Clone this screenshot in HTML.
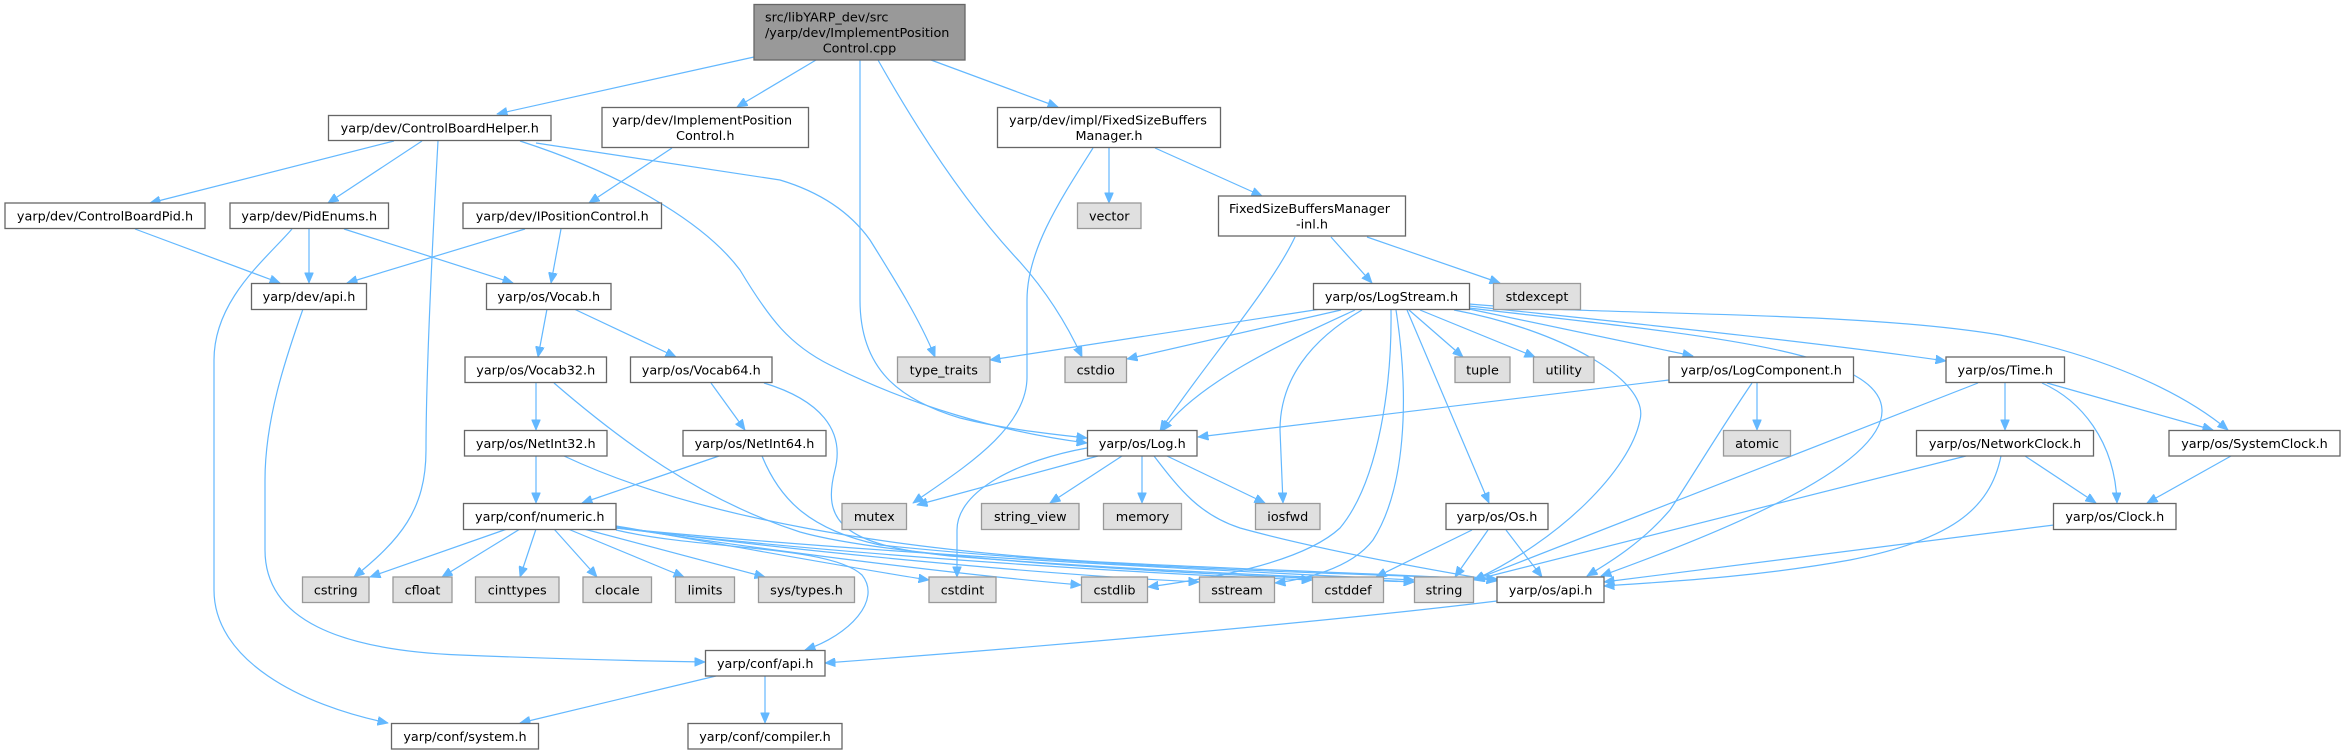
<!DOCTYPE html>
<html>
<head>
<meta charset="utf-8">
<style>
html,body{margin:0;padding:0;background:#fff;}
svg{display:block;}
text{font-family:"DejaVu Sans","Liberation Sans",sans-serif;font-size:12.8px;fill:#000;}
.w{fill:#fff;stroke:#666;stroke-width:1.3;}
.g{fill:#e0e0e0;stroke:#999;stroke-width:1.3;}
.m{fill:#999;stroke:#666;stroke-width:1.3;}
.e{fill:none;stroke:#63b8ff;stroke-width:1.2;marker-end:url(#ah);}
</style>
</head>
<body>
<svg width="2345" height="755" viewBox="0 0 2345 755" xmlns="http://www.w3.org/2000/svg">
<defs>
<marker id="ah" markerUnits="userSpaceOnUse" markerWidth="11" markerHeight="9" refX="10.5" refY="4.5" orient="auto">
<path d="M0,0 L10.5,4.5 L0,9 z" fill="#63b8ff" stroke="#63b8ff" stroke-width="0.8"/>
</marker>
</defs>

<!-- EDGES -->
<g>
<path class="e" d="M754,57 L497,114"/>
<path class="e" d="M816,60 L737,107"/>
<path class="e" d="M860,60 L860,300 C860,370 900,400 960,418 C1000,428 1040,433 1087,438"/>
<path class="e" d="M878,60 C940,170 990,230 1020,262 C1045,290 1065,320 1082,357"/>
<path class="e" d="M931,60 L1058,107"/>
<path class="e" d="M394,141 L150,203"/>
<path class="e" d="M422,141 L328,203"/>
<path class="e" d="M438,141 C432,250 426,380 426,450 C426,510 400,540 354,577"/>
<path class="e" d="M520,141 C640,180 710,230 740,270 C770,320 790,345 830,365 C910,405 1000,432 1087,443"/>
<path class="e" d="M536,143 L780,180 C820,192 850,212 870,240 C895,280 920,320 935,357"/>
<path class="e" d="M672,148 L589,203"/>
<path class="e" d="M1109,148 L1109,203"/>
<path class="e" d="M1155,148 L1262,196"/>
<path class="e" d="M1093,148 C1060,200 1027,250 1027,300 L1027,377 C1027,430 960,470 913,503"/>
<path class="e" d="M135,229 L280,283"/>
<path class="e" d="M309,229 L309,283"/>
<path class="e" d="M344,229 L513,283"/>
<path class="e" d="M292,229 C265,260 214,300 214,360 L214,590 C214,660 300,705 388,723"/>
<path class="e" d="M525,229 L347,283"/>
<path class="e" d="M561,229 L551,283"/>
<path class="e" d="M303,309 C285,360 265,420 265,480 L265,550 C265,620 340,650 460,655 C560,659 640,661 705,662"/>
<path class="e" d="M547,309 L538,357"/>
<path class="e" d="M574,309 L676,357"/>
<path class="e" d="M536,383 L536,430"/>
<path class="e" d="M554,383 C620,440 700,500 800,532 C900,560 1200,575 1414,582"/>
<path class="e" d="M711,383 L745,430"/>
<path class="e" d="M764,383 C820,400 845,430 835,470 C822,520 840,545 950,556 C1150,572 1350,578 1414,582"/>
<path class="e" d="M536,456 L536,503"/>
<path class="e" d="M564,456 C700,520 900,550 1100,562 C1300,572 1420,575 1497,580"/>
<path class="e" d="M719,456 L582,503"/>
<path class="e" d="M762,456 C780,500 810,530 880,545 C1100,568 1350,574 1497,579"/>
<!-- numeric -->
<path class="e" d="M507,529 L370,577"/>
<path class="e" d="M520,529 L442,577"/>
<path class="e" d="M536,529 L520,577"/>
<path class="e" d="M554,529 L597,577"/>
<path class="e" d="M568,529 L684,577"/>
<path class="e" d="M584,529 L765,577"/>
<path class="e" d="M616,526 C700,540 850,568 929,580"/>
<path class="e" d="M616,527 C750,548 950,574 1081,585"/>
<path class="e" d="M616,527 C800,552 1050,575 1199,582"/>
<path class="e" d="M616,528 C850,556 1150,574 1312,580"/>
<path class="e" d="M616,528 C900,556 1250,572 1414,580"/>
<path class="e" d="M616,530 C700,550 830,545 862,575 C882,600 850,635 805,650"/>
<!-- Log.h -->
<path class="e" d="M1098,456 L917,505"/>
<path class="e" d="M1087,448 C1020,460 957,490 957,530 L957,577"/>
<path class="e" d="M1122,456 L1050,503"/>
<path class="e" d="M1142,456 L1142,503"/>
<path class="e" d="M1167,456 L1265,503"/>
<path class="e" d="M1154,456 C1180,490 1200,515 1240,528 C1320,550 1420,568 1497,581"/>
<!-- LogStream -->
<path class="e" d="M1321,309 L990,360"/>
<path class="e" d="M1341,310 L1127,359"/>
<path class="e" d="M1355,310 C1290,340 1200,380 1162,431"/>
<path class="e" d="M1362,310 C1310,340 1280,380 1280,430 L1283,503"/>
<path class="e" d="M1391,310 C1392,380 1380,480 1340,528 C1300,565 1200,580 1148,587"/>
<path class="e" d="M1396,310 C1410,400 1405,490 1373,540 C1350,570 1300,580 1275,583"/>
<path class="e" d="M1407,310 L1489,503"/>
<path class="e" d="M1409,310 L1463,357"/>
<path class="e" d="M1420,310 L1535,357"/>
<path class="e" d="M1454,310 C1560,330 1650,380 1640,420 C1630,470 1560,540 1474,580"/>
<path class="e" d="M1469,309 L1693,356"/>
<path class="e" d="M1469,306 C1600,320 1800,340 1946,361"/>
<path class="e" d="M1469,304 C1600,316 1850,310 2000,335 C2100,355 2180,390 2228,430"/>
<path class="e" d="M1469,308 C1700,335 1880,350 1882,410 C1884,470 1700,540 1601,576"/>
<!-- LogComponent -->
<path class="e" d="M1669,380 L1198,437"/>
<path class="e" d="M1752,383 C1720,430 1690,480 1670,510 C1640,545 1605,565 1587,576"/>
<path class="e" d="M1757,383 L1757,430"/>
<!-- Time -->
<path class="e" d="M1978,383 L1474,580"/>
<path class="e" d="M2005,383 L2005,430"/>
<path class="e" d="M2042,383 C2080,400 2115,440 2117,503"/>
<path class="e" d="M2047,383 L2213,430"/>
<!-- NetworkClock -->
<path class="e" d="M2025,456 L2096,503"/>
<path class="e" d="M1966,456 L1474,580"/>
<path class="e" d="M2001,456 C1990,510 1950,540 1850,560 C1750,578 1660,582 1604,586"/>
<!-- SystemClock, Clock -->
<path class="e" d="M2231,456 L2147,503"/>
<path class="e" d="M2054,525 L1604,582"/>
<!-- Os -->
<path class="e" d="M1472,530 L1376,577"/>
<path class="e" d="M1488,530 L1455,577"/>
<path class="e" d="M1506,530 L1542,577"/>
<!-- FSBM-inl -->
<path class="e" d="M1295,237 C1270,290 1200,370 1160,431"/>
<path class="e" d="M1331,237 L1372,283"/>
<path class="e" d="M1367,237 L1500,283"/>
<!-- os/api, conf/api -->
<path class="e" d="M1497,601 C1300,625 1000,650 825,663"/>
<path class="e" d="M716,676 L520,723"/>
<path class="e" d="M765,676 L765,723"/>
</g>

<!-- NODES -->
<g>
<!-- main -->
<rect class="m" x="754" y="4.5" width="211" height="55.5"/>
<text x="765" y="21.5">src/libYARP_dev/src</text>
<text x="765" y="36.9">/yarp/dev/ImplementPosition</text>
<text x="859.5" y="52.3" text-anchor="middle">Control.cpp</text>

<rect class="w" x="328.5" y="115.5" width="222.5" height="25"/>
<text x="439.75" y="132.6" text-anchor="middle">yarp/dev/ControlBoardHelper.h</text>

<rect class="w" x="602" y="107.5" width="206.5" height="40"/>
<text x="612" y="124.4">yarp/dev/ImplementPosition</text>
<text x="705.25" y="139.8" text-anchor="middle">Control.h</text>

<rect class="w" x="997.5" y="107.5" width="223" height="40"/>
<text x="1009" y="124.4">yarp/dev/impl/FixedSizeBuffers</text>
<text x="1109" y="139.8" text-anchor="middle">Manager.h</text>

<rect class="w" x="5" y="203" width="200" height="25.5"/>
<text x="105" y="220.3" text-anchor="middle">yarp/dev/ControlBoardPid.h</text>

<rect class="w" x="230" y="203" width="158.5" height="25.5"/>
<text x="309.25" y="220.3" text-anchor="middle">yarp/dev/PidEnums.h</text>

<rect class="w" x="463" y="203" width="198.5" height="25.5"/>
<text x="562.25" y="220.3" text-anchor="middle">yarp/dev/IPositionControl.h</text>

<rect class="g" x="1077.5" y="203" width="63.5" height="25.5"/>
<text x="1109.25" y="220.3" text-anchor="middle">vector</text>

<rect class="w" x="1218.5" y="196" width="187" height="40"/>
<text x="1229" y="212.9">FixedSizeBuffersManager</text>
<text x="1312" y="228.3" text-anchor="middle">-inl.h</text>

<rect class="w" x="251.5" y="283.5" width="115" height="26"/>
<text x="309" y="301.1" text-anchor="middle">yarp/dev/api.h</text>

<rect class="w" x="486.5" y="283.5" width="124.5" height="26"/>
<text x="548.75" y="301.1" text-anchor="middle">yarp/os/Vocab.h</text>

<rect class="w" x="1313.5" y="283.5" width="156" height="26"/>
<text x="1391.5" y="301.1" text-anchor="middle">yarp/os/LogStream.h</text>

<rect class="g" x="1493.5" y="283.5" width="87" height="26"/>
<text x="1537" y="301.1" text-anchor="middle">stdexcept</text>

<rect class="w" x="465" y="357" width="141.5" height="25.5"/>
<text x="535.75" y="374.4" text-anchor="middle">yarp/os/Vocab32.h</text>

<rect class="w" x="630.5" y="357" width="141.5" height="25.5"/>
<text x="701.25" y="374.4" text-anchor="middle">yarp/os/Vocab64.h</text>

<rect class="g" x="897.5" y="357" width="92.5" height="25.5"/>
<text x="943.75" y="374.4" text-anchor="middle">type_traits</text>

<rect class="g" x="1065" y="357" width="61.5" height="25.5"/>
<text x="1095.75" y="374.4" text-anchor="middle">cstdio</text>

<rect class="g" x="1455" y="357" width="55" height="25.5"/>
<text x="1482.5" y="374.4" text-anchor="middle">tuple</text>

<rect class="g" x="1533.5" y="357" width="60.5" height="25.5"/>
<text x="1563.75" y="374.4" text-anchor="middle">utility</text>

<rect class="w" x="1669" y="357" width="184.5" height="25.5"/>
<text x="1761.25" y="374.4" text-anchor="middle">yarp/os/LogComponent.h</text>

<rect class="w" x="1946" y="357" width="118.5" height="25.5"/>
<text x="2005.25" y="374.4" text-anchor="middle">yarp/os/Time.h</text>

<rect class="w" x="464.5" y="430.5" width="142.5" height="25.5"/>
<text x="535.75" y="447.9" text-anchor="middle">yarp/os/NetInt32.h</text>

<rect class="w" x="683" y="430.5" width="143" height="25.5"/>
<text x="754.5" y="447.9" text-anchor="middle">yarp/os/NetInt64.h</text>

<rect class="w" x="1087.5" y="430.5" width="109.5" height="25.5"/>
<text x="1142.25" y="447.9" text-anchor="middle">yarp/os/Log.h</text>

<rect class="g" x="1723.5" y="430.5" width="67" height="25.5"/>
<text x="1757" y="447.9" text-anchor="middle">atomic</text>

<rect class="w" x="1916.5" y="430.5" width="177" height="25.5"/>
<text x="2005" y="447.9" text-anchor="middle">yarp/os/NetworkClock.h</text>

<rect class="w" x="2169" y="430.5" width="171" height="25.5"/>
<text x="2254.5" y="447.9" text-anchor="middle">yarp/os/SystemClock.h</text>

<rect class="w" x="463.5" y="503.5" width="152.5" height="26"/>
<text x="539.75" y="521.1" text-anchor="middle">yarp/conf/numeric.h</text>

<rect class="g" x="842" y="503.5" width="64.5" height="26"/>
<text x="874.25" y="521.1" text-anchor="middle">mutex</text>

<rect class="g" x="981.5" y="503.5" width="97.5" height="26"/>
<text x="1030.25" y="521.1" text-anchor="middle">string_view</text>

<rect class="g" x="1103.5" y="503.5" width="78" height="26"/>
<text x="1142.5" y="521.1" text-anchor="middle">memory</text>

<rect class="g" x="1255.5" y="503.5" width="64.5" height="26"/>
<text x="1287.75" y="521.1" text-anchor="middle">iosfwd</text>

<rect class="w" x="1446" y="503.5" width="102" height="26"/>
<text x="1497" y="521.1" text-anchor="middle">yarp/os/Os.h</text>

<rect class="w" x="2053.5" y="503.5" width="122.5" height="26"/>
<text x="2114.75" y="521.1" text-anchor="middle">yarp/os/Clock.h</text>

<rect class="g" x="302.5" y="577" width="66.5" height="25.5"/>
<text x="335.75" y="594.4" text-anchor="middle">cstring</text>

<rect class="g" x="393" y="577" width="59" height="25.5"/>
<text x="422.5" y="594.4" text-anchor="middle">cfloat</text>

<rect class="g" x="475.5" y="577" width="83.5" height="25.5"/>
<text x="517.25" y="594.4" text-anchor="middle">cinttypes</text>

<rect class="g" x="583" y="577" width="68.5" height="25.5"/>
<text x="617.25" y="594.4" text-anchor="middle">clocale</text>

<rect class="g" x="675.5" y="577" width="59" height="25.5"/>
<text x="705" y="594.4" text-anchor="middle">limits</text>

<rect class="g" x="758.5" y="577" width="96" height="25.5"/>
<text x="806.5" y="594.4" text-anchor="middle">sys/types.h</text>

<rect class="g" x="929" y="577" width="67" height="25.5"/>
<text x="962.5" y="594.4" text-anchor="middle">cstdint</text>

<rect class="g" x="1081.5" y="577" width="66" height="25.5"/>
<text x="1114.5" y="594.4" text-anchor="middle">cstdlib</text>

<rect class="g" x="1199.5" y="577" width="75" height="25.5"/>
<text x="1237" y="594.4" text-anchor="middle">sstream</text>

<rect class="g" x="1312.5" y="577" width="71" height="25.5"/>
<text x="1348" y="594.4" text-anchor="middle">cstddef</text>

<rect class="g" x="1414.5" y="577" width="59" height="25.5"/>
<text x="1444" y="594.4" text-anchor="middle">string</text>

<rect class="w" x="1497" y="577" width="107" height="25.5"/>
<text x="1550.5" y="594.4" text-anchor="middle">yarp/os/api.h</text>

<rect class="w" x="705.5" y="650.5" width="119.5" height="25.5"/>
<text x="765.25" y="667.9" text-anchor="middle">yarp/conf/api.h</text>

<rect class="w" x="391.5" y="723.5" width="147" height="25.5"/>
<text x="465" y="740.9" text-anchor="middle">yarp/conf/system.h</text>

<rect class="w" x="688" y="723.5" width="154" height="25.5"/>
<text x="765" y="740.9" text-anchor="middle">yarp/conf/compiler.h</text>
</g>
</svg>
</body>
</html>
